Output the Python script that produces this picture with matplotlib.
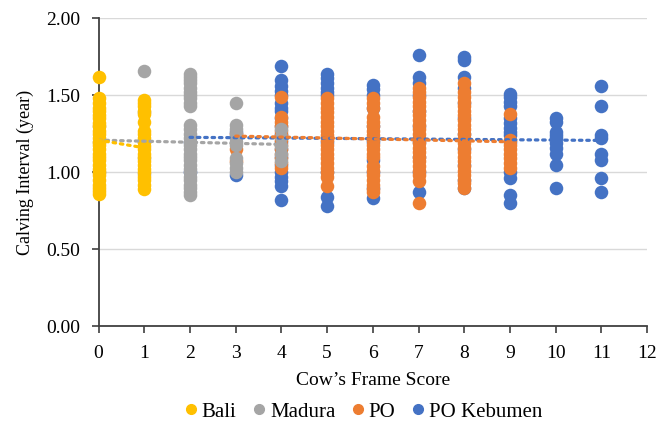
import matplotlib
matplotlib.use("Agg")
import matplotlib.pyplot as plt
from matplotlib.lines import Line2D

plt.rcParams['font.family'] = ['Liberation Serif', 'DejaVu Serif']

series_names = ["Bali", "Madura", "PO", "PO Kebumen"]
colors = {"Bali": "#FFC000", "Madura": "#A5A5A5", "PO": "#ED7D31", "PO Kebumen": "#4472C4"}

# values per frame score, per breed
bali = {
    0: [1.62, 1.48, 1.45, 1.42, 1.40, 1.37, 1.35, 1.32, 1.30, 1.27, 1.25, 1.22, 1.20, 1.18,
        1.15, 1.12, 1.10, 1.08, 1.05, 1.02, 1.00, 0.98, 0.95, 0.92, 0.90, 0.88, 0.86],
    1: [1.47, 1.45, 1.43, 1.40, 1.38, 1.33, 1.27, 1.25, 1.22, 1.20, 1.17, 1.15, 1.12, 1.10,
        1.07, 1.05, 1.02, 1.00, 0.97, 0.95, 0.92, 0.89],
}
madura = {
    0: [1.30, 1.20, 1.00],
    1: [1.66, 1.39, 1.20, 1.09, 0.99],
    2: [1.64, 1.62, 1.60, 1.58, 1.55, 1.52, 1.50, 1.48, 1.45, 1.43,
        1.31, 1.28, 1.25, 1.22, 1.20, 1.18, 1.15, 1.12, 1.10, 1.08, 1.05, 1.02, 1.00,
        0.97, 0.95, 0.92, 0.90, 0.87, 0.85],
    3: [1.45, 1.31, 1.28, 1.25, 1.22, 1.20, 1.18, 1.09, 1.06, 1.03, 1.00],
    4: [1.28, 1.23, 1.17, 1.12, 1.07],
}
po = {
    3: [1.25, 1.15, 1.07],
    4: [1.49, 1.36, 1.33, 1.30, 1.27, 1.24, 1.21, 1.18, 1.15, 1.12, 1.09, 1.06, 1.03],
    5: [1.48, 1.45, 1.42, 1.39, 1.36, 1.33, 1.30, 1.27, 1.24, 1.21, 1.18, 1.15, 1.12,
        1.09, 1.06, 1.03, 1.00, 0.97, 0.91],
    6: [1.48, 1.45, 1.42, 1.36, 1.33, 1.30, 1.27, 1.24, 1.21, 1.18, 1.15, 1.12, 1.10,
        1.04, 1.01, 0.98, 0.95, 0.92, 0.89, 0.87],
    7: [1.55, 1.52, 1.49, 1.46, 1.43, 1.40, 1.37, 1.34, 1.31, 1.28, 1.25, 1.22, 1.19,
        1.16, 1.13, 1.10, 1.07, 1.04, 1.01, 0.98, 0.94, 0.80],
    8: [1.58, 1.52, 1.49, 1.46, 1.43, 1.40, 1.37, 1.34, 1.31, 1.28, 1.25, 1.22, 1.19,
        1.16, 1.13, 1.10, 1.07, 1.04, 1.01, 0.98, 0.95, 0.93, 0.90],
    9: [1.38, 1.21, 1.18, 1.15, 1.12, 1.09, 1.06, 1.03],
}
po_kebumen = {
    2: [1.20, 1.00],
    3: [1.265, 0.98],
    4: [1.69, 1.60, 1.56, 1.53, 1.50, 1.45, 1.42, 1.40, 1.35, 1.30, 1.25, 1.20, 1.15,
        1.10, 1.05, 1.00, 0.97, 0.94, 0.91, 0.82],
    5: [1.64, 1.61, 1.58, 1.55, 1.52, 1.50, 1.20, 1.00, 0.84, 0.78],
    6: [1.57, 1.54, 1.50, 1.42, 1.30, 1.20, 1.08, 1.00, 0.90, 0.83],
    7: [1.76, 1.62, 1.58, 1.50, 1.40, 1.30, 1.20, 1.10, 1.00, 0.87],
    8: [1.75, 1.73, 1.62, 1.55, 1.45, 1.35, 1.25, 1.15, 1.05, 0.95, 0.90],
    9: [1.51, 1.49, 1.46, 1.43, 1.35, 1.32, 1.29, 1.26, 1.24, 1.20, 1.00, 0.96, 0.85, 0.80],
    10: [1.35, 1.33, 1.26, 1.24, 1.22, 1.19, 1.16, 1.12, 1.05, 0.90],
    11: [1.56, 1.43, 1.24, 1.22, 1.12, 1.08, 0.96, 0.87],
}
data = {"Bali": bali, "Madura": madura, "PO": po, "PO Kebumen": po_kebumen}

# linear trendline end points
trend_x = {"Bali": [0, 1], "Madura": [0, 4], "PO": [3, 9], "PO Kebumen": [2, 11]}
trend_y = {"Bali": [1.209, 1.159], "Madura": [1.209, 1.181],
           "PO": [1.235, 1.198], "PO Kebumen": [1.227, 1.207]}

x_ticks = list(range(0, 13))
y_ticks = [0.0, 0.5, 1.0, 1.5, 2.0]

fig = plt.figure(figsize=(6.72, 4.26), dpi=100)
ax = fig.add_axes([0.1467, 0.2347, 0.8163, 0.7219])

draw_order = ["PO Kebumen", "PO", "Madura", "Bali"]
for z, name in enumerate(draw_order):
    xs, ys = [], []
    for k, vals in data[name].items():
        xs += [k] * len(vals)
        ys += vals
    ax.scatter(xs, ys, s=95, color=colors[name], linewidths=0, zorder=3 + z,
               clip_on=False)

for z, name in enumerate(draw_order):
    ax.plot(trend_x[name], trend_y[name], color=colors[name], lw=2.3,
            linestyle=(0, (0.8, 1.5)), dash_capstyle='round', zorder=10 + z)

ax.set_xlim(0, 12)
ax.set_ylim(0, 2.0)
ax.set_xticks(x_ticks)
ax.set_yticks(y_ticks)
ax.set_yticklabels([f"{v:.2f}" for v in y_ticks])
ax.grid(axis='y', color='#D9D9D9', lw=1.0, zorder=0)
ax.set_axisbelow(True)
for s in ['top', 'right']:
    ax.spines[s].set_visible(False)
for s in ['left', 'bottom']:
    ax.spines[s].set_color('#404040')
    ax.spines[s].set_linewidth(1.3)
ax.tick_params(axis='both', labelsize=14, color='#404040', width=1.2, length=5,
               labelcolor='#000000')
ax.tick_params(axis='x', pad=9)
ax.tick_params(axis='y', pad=8)
ax.set_xlabel("Cow\u2019s Frame Score", fontsize=14, labelpad=7)
ax.set_ylabel("Calving Interval (year)", fontsize=13, labelpad=9)

handles = [Line2D([], [], marker='o', ls='', color=colors[n], markersize=7, label=n)
           for n in series_names]
fig.legend(handles=handles, loc='center', bbox_to_anchor=(0.538, 0.033), ncol=4,
           frameon=False, fontsize=15, handletextpad=0.0, columnspacing=0.6,
           handlelength=1.0)

fig.savefig("out.png", dpi=100)
